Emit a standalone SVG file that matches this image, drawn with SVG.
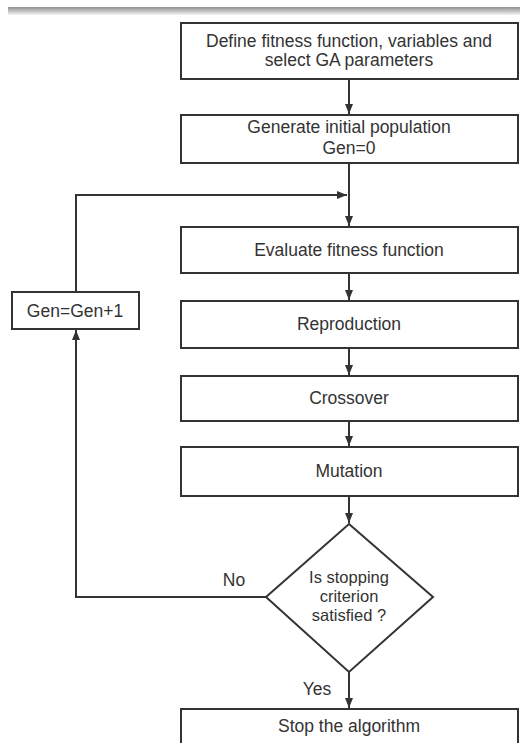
<svg xmlns="http://www.w3.org/2000/svg" width="520" height="743" viewBox="0 0 520 743">
<defs>
<linearGradient id="band" x1="0" y1="0" x2="0" y2="1">
<stop offset="0" stop-color="#8f8f8f"/>
<stop offset="1" stop-color="#f4f4f4"/>
</linearGradient>
<marker id="ah" viewBox="0 0 10 8" refX="10" refY="4" markerWidth="10" markerHeight="8" markerUnits="userSpaceOnUse" orient="auto">
<path d="M0,0 L10,4 L0,8 Z" fill="#333"/>
</marker>
<style>
.box{fill:#fff;stroke:#333;stroke-width:2}
.t{font-family:"Liberation Sans",Arial,sans-serif;font-size:17.5px;fill:#333;text-anchor:middle}
.d{font-size:16.5px}
.c{fill:none;stroke:#333;stroke-width:2}
</style>
</defs>
<rect width="520" height="743" fill="#fff"/>
<rect x="8" y="7" width="512" height="8" fill="url(#band)"/>
<g id="n1"><rect class="box" x="181" y="23" width="337" height="56"/>
<text class="t" x="349" y="47">Define fitness function, variables and</text>
<text class="t" x="349" y="66">select GA parameters</text></g>
<g id="n2"><rect class="box" x="181" y="115" width="337" height="48"/>
<text class="t" x="349" y="133">Generate initial population</text>
<text class="t" x="349" y="154">Gen=0</text></g>
<g id="n3"><rect class="box" x="181" y="227" width="337" height="46"/>
<text class="t" x="349" y="256">Evaluate fitness function</text></g>
<g id="n4"><rect class="box" x="181" y="301" width="337" height="47"/>
<text class="t" x="349" y="330">Reproduction</text></g>
<g id="n5"><rect class="box" x="181" y="376" width="337" height="45"/>
<text class="t" x="349" y="404">Crossover</text></g>
<g id="n6"><rect class="box" x="181" y="447" width="337" height="49"/>
<text class="t" x="349" y="477">Mutation</text></g>
<g id="gen"><rect class="box" x="12" y="292" width="127" height="37"/>
<text class="t" x="75" y="317">Gen=Gen+1</text></g>
<g id="dec"><polygon class="box" points="349,524 433,597 349,672 266,597"/>
<text class="t d" x="349" y="583">Is stopping</text>
<text class="t d" x="349" y="602">criterion</text>
<text class="t d" x="349" y="621">satisfied ?</text></g>
<g id="stop"><rect class="box" x="181" y="709" width="337" height="50"/>
<text class="t" x="349" y="732">Stop the algorithm</text></g>
<g id="connectors">
<line class="c" x1="349" y1="79" x2="349" y2="114" marker-end="url(#ah)"/>
<line class="c" x1="349" y1="163" x2="349" y2="226" marker-end="url(#ah)"/>
<polyline class="c" points="76,292 76,195 347,195" marker-end="url(#ah)"/>
<line class="c" x1="349" y1="273" x2="349" y2="300" marker-end="url(#ah)"/>
<line class="c" x1="349" y1="348" x2="349" y2="375" marker-end="url(#ah)"/>
<line class="c" x1="349" y1="421" x2="349" y2="446" marker-end="url(#ah)"/>
<line class="c" x1="349" y1="496" x2="349" y2="523" marker-end="url(#ah)"/>
<polyline class="c" points="266,597 76,597 76,330" marker-end="url(#ah)"/>
<line class="c" x1="349" y1="672" x2="349" y2="708" marker-end="url(#ah)"/>
<text class="t" x="234" y="586">No</text>
<text class="t" x="317" y="695">Yes</text>
</g>
</svg>
